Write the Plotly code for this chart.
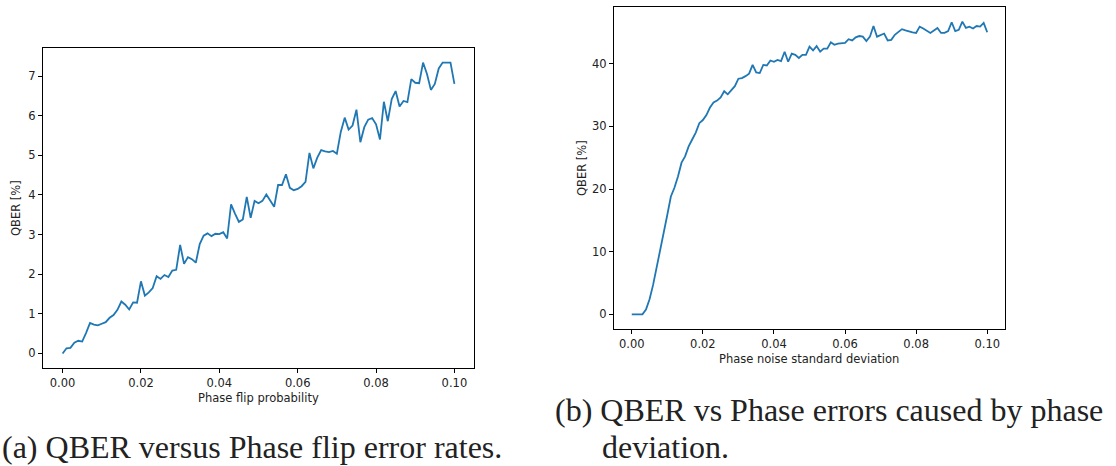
import plotly.graph_objects as go

# x grid shared by both panels (0.000 .. 0.100 step 0.001)
x_vals = [0.000, 0.001, 0.002, 0.003, 0.004, 0.005, 0.006, 0.007, 0.008, 0.009,
          0.010, 0.011, 0.012, 0.013, 0.014, 0.015, 0.016, 0.017, 0.018, 0.019,
          0.020, 0.021, 0.022, 0.023, 0.024, 0.025, 0.026, 0.027, 0.028, 0.029,
          0.030, 0.031, 0.032, 0.033, 0.034, 0.035, 0.036, 0.037, 0.038, 0.039,
          0.040, 0.041, 0.042, 0.043, 0.044, 0.045, 0.046, 0.047, 0.048, 0.049,
          0.050, 0.051, 0.052, 0.053, 0.054, 0.055, 0.056, 0.057, 0.058, 0.059,
          0.060, 0.061, 0.062, 0.063, 0.064, 0.065, 0.066, 0.067, 0.068, 0.069,
          0.070, 0.071, 0.072, 0.073, 0.074, 0.075, 0.076, 0.077, 0.078, 0.079,
          0.080, 0.081, 0.082, 0.083, 0.084, 0.085, 0.086, 0.087, 0.088, 0.089,
          0.090, 0.091, 0.092, 0.093, 0.094, 0.095, 0.096, 0.097, 0.098, 0.099,
          0.100]

qber_flip = [0.00, 0.13, 0.14, 0.27, 0.32, 0.30, 0.52, 0.77, 0.73, 0.71,
             0.75, 0.79, 0.90, 0.97, 1.10, 1.31, 1.23, 1.11, 1.29, 1.28,
             1.82, 1.46, 1.54, 1.65, 1.95, 1.88, 1.98, 1.93, 2.09, 2.11,
             2.74, 2.26, 2.43, 2.38, 2.29, 2.76, 2.97, 3.03, 2.96, 3.02,
             3.01, 3.06, 2.90, 3.76, 3.53, 3.32, 3.38, 3.95, 3.42, 3.85,
             3.79, 3.85, 4.01, 3.87, 3.70, 4.25, 4.25, 4.52, 4.18, 4.12,
             4.15, 4.22, 4.33, 5.06, 4.67, 4.94, 5.13, 5.10, 5.08, 5.11,
             5.04, 5.59, 5.95, 5.65, 5.75, 6.15, 5.33, 5.71, 5.90, 5.94,
             5.78, 5.40, 6.35, 5.86, 6.42, 6.62, 6.23, 6.37, 6.34, 6.92,
             6.83, 6.82, 7.34, 7.05, 6.65, 6.80, 7.19, 7.34, 7.34, 7.34,
             6.80]

qber_noise = [0.0, 0.0, 0.0, 0.0, 0.75, 2.4, 4.7, 7.4, 10.6, 12.9,
              15.9, 18.8, 20.2, 22.0, 24.2, 25.2, 26.8, 27.9, 29.0, 30.5,
              31.0, 31.8, 33.0, 33.8, 34.1, 34.6, 35.6, 35.1, 35.7, 36.4,
              37.6, 37.7, 38.0, 38.4, 39.8, 38.6, 38.5, 39.8, 39.7, 40.5,
              40.3, 40.6, 40.4, 41.9, 40.3, 41.6, 41.4, 40.9, 41.4, 41.4,
              42.7, 42.1, 42.8, 41.9, 42.4, 42.4, 43.4, 43.0, 43.2, 43.3,
              43.3, 43.9, 43.7, 44.2, 44.4, 44.3, 43.6, 44.3, 46.0, 44.3,
              44.6, 44.8, 43.7, 43.8, 44.6, 45.1, 45.5, 45.3, 45.1, 45.0,
              44.9, 45.9, 45.6, 45.3, 44.9, 45.3, 45.7, 44.9, 44.9, 45.2,
              46.6, 45.2, 45.4, 46.7, 45.7, 45.9, 45.6, 46.0, 45.9, 46.5,
              45.0]

x_ticks = [0.00, 0.02, 0.04, 0.06, 0.08, 0.10]
x_tick_text = ["0.00", "0.02", "0.04", "0.06", "0.08", "0.10"]
y_ticks_a = [0, 1, 2, 3, 4, 5, 6, 7]
y_ticks_b = [0, 10, 20, 30, 40]

W, H = 1116, 466
LINE = "#1f77b4"
TICKFONT = dict(family="DejaVu Sans", size=11.5, color="#222222")
CAPFONT = dict(family="Liberation Serif", size=32, color="#222222")

fig = go.Figure()
fig.add_trace(go.Scatter(x=x_vals, y=qber_flip, mode="lines",
                         line=dict(color=LINE, width=1.8), xaxis="x", yaxis="y",
                         showlegend=False, hoverinfo="skip"))
fig.add_trace(go.Scatter(x=x_vals, y=qber_noise, mode="lines",
                         line=dict(color=LINE, width=1.8), xaxis="x2", yaxis="y2",
                         showlegend=False, hoverinfo="skip"))

axis_common = dict(showline=True, linecolor="#000000", linewidth=1, mirror=True,
                   showgrid=False, zeroline=False, ticks="outside", ticklen=4,
                   tickwidth=1, tickcolor="#000000", tickfont=TICKFONT)

# pixel boxes
ax_a = (43, 474, 48, 368)
ax_b = (614, 1005, 7, 329)

def dom_x(b):
    return [b[0] / W, b[1] / W]

def dom_y(b):
    return [1 - b[3] / H, 1 - b[2] / H]

fig.update_layout(
    width=W, height=H,
    margin=dict(l=0, r=0, t=0, b=0),
    paper_bgcolor="white", plot_bgcolor="white",
    xaxis=dict(domain=dom_x(ax_a), anchor="y", range=[-0.005, 0.105],
               tickvals=x_ticks, ticktext=x_tick_text, **axis_common),
    yaxis=dict(domain=dom_y(ax_a), anchor="x", range=[-0.367, 7.707],
               tickvals=y_ticks_a, **axis_common),
    xaxis2=dict(domain=dom_x(ax_b), anchor="y2", range=[-0.005, 0.105],
                tickvals=x_ticks, ticktext=x_tick_text, **axis_common),
    yaxis2=dict(domain=dom_y(ax_b), anchor="x2", range=[-2.335, 49.035],
                tickvals=y_ticks_b, **axis_common),
)

def ann(text, x, y, font, angle=0, xanchor="center", yanchor="middle"):
    fig.add_annotation(text=text, x=x / W, y=1 - y / H, xref="paper", yref="paper",
                       showarrow=False, font=font, textangle=angle,
                       xanchor=xanchor, yanchor=yanchor)

# axis titles
ann("Phase flip probability", 258, 398, TICKFONT)
ann("QBER [%]", 16, 208, TICKFONT, angle=-90)
ann("Phase noise standard deviation", 809, 359, TICKFONT)
ann("QBER [%]", 582, 168, TICKFONT, angle=-90)

# captions
ann("(a) QBER versus Phase flip error rates.", 0, 447, CAPFONT, xanchor="left")
ann("(b) QBER vs Phase errors caused by phase", 553, 410, CAPFONT, xanchor="left")
ann("deviation.", 600, 447, CAPFONT, xanchor="left")

fig.write_html("out.html")
